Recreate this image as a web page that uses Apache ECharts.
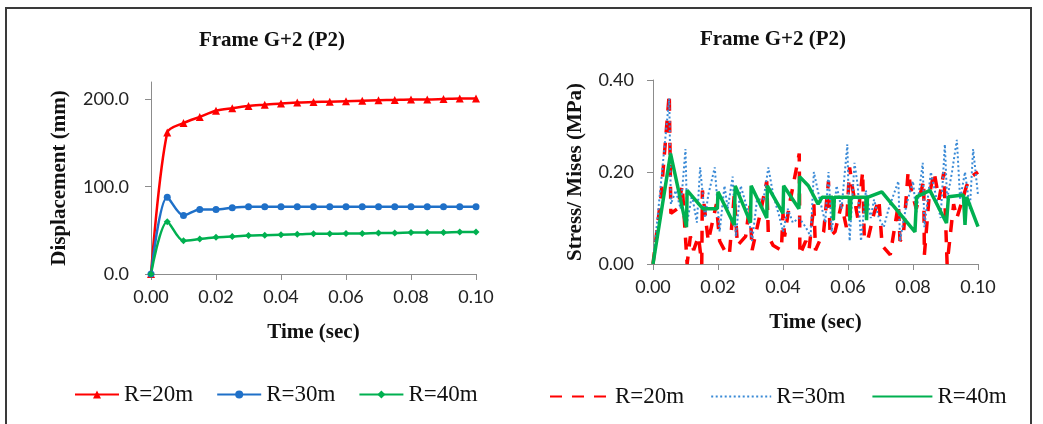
<!DOCTYPE html>
<html><head><meta charset="utf-8">
<script src="https://cdn.jsdelivr.net/npm/echarts@6/dist/echarts.min.js"></script>
<style>html,body{margin:0;padding:0;background:#fff}#c{width:1043px;height:424px}</style>
</head><body><div id="c"></div>
<script>
// ---- Left chart: displacement (mm) vs time (sec) ----
const dispTime = [0, 0.005, 0.01, 0.015, 0.02, 0.025, 0.03, 0.035, 0.04, 0.045, 0.05, 0.055, 0.06, 0.065, 0.07, 0.075, 0.08, 0.085, 0.09, 0.095, 0.1];
const dispR20 = [0, 162, 173, 180, 187, 190, 192.5, 194, 195.5, 196.5, 197, 197.5, 198, 198.5, 199, 199.5, 200, 200, 200.5, 201, 201];
const dispR30 = [0, 88, 67, 74, 74, 76, 77, 77, 77, 77, 77, 77, 77, 77, 77, 77, 77, 77, 77, 77, 77];
const dispR40 = [0, 60, 38, 40, 42, 43, 44, 44.5, 45, 45.5, 46, 46, 46.5, 46.5, 47, 47, 47.5, 47.5, 47.5, 48, 48];
const dispTicks = [0, 100, 200];

// ---- Right chart: stress / Mises (MPa) vs time (sec), [time, value] ----
const stressR20 = [[0,0],[0.0025,0.15],[0.005,0.37],[0.0055,0.11],[0.0075,0.12],[0.009,0.17],[0.0105,0.0],[0.0115,0.06],[0.0125,0.03],[0.014,0.06],[0.015,0.0],[0.0152,0.16],[0.017,0.05],[0.0195,0.13],[0.0205,0.05],[0.022,0.03],[0.0235,0.02],[0.025,0.15],[0.026,0.04],[0.0285,0.06],[0.0298,0.13],[0.0305,0.03],[0.033,0.11],[0.035,0.18],[0.0355,0.06],[0.037,0.04],[0.0395,0.03],[0.04,0.11],[0.0405,0.06],[0.042,0.13],[0.045,0.24],[0.0452,0.02],[0.047,0.05],[0.048,0.03],[0.0495,0.13],[0.05,0.03],[0.0525,0.07],[0.054,0.18],[0.0545,0.06],[0.056,0.07],[0.058,0.13],[0.0595,0.08],[0.0605,0.21],[0.0615,0.16],[0.063,0.1],[0.0645,0.2],[0.065,0.06],[0.066,0.05],[0.068,0.11],[0.0695,0.14],[0.0705,0.04],[0.073,0.02],[0.0755,0.13],[0.076,0.05],[0.077,0.06],[0.0785,0.2],[0.0795,0.16],[0.081,0.12],[0.0833,0.18],[0.0835,0.02],[0.085,0.15],[0.0865,0.2],[0.088,0.14],[0.0895,0.2],[0.0905,0.0],[0.0925,0.13],[0.0935,0.1],[0.0965,0.17],[0.098,0.19],[0.1,0.2]];
const stressR30 = [[0,0],[0.0025,0.18],[0.005,0.36],[0.0055,0.13],[0.007,0.16],[0.0085,0.12],[0.01,0.25],[0.0105,0.09],[0.012,0.15],[0.0135,0.09],[0.0145,0.21],[0.016,0.1],[0.017,0.15],[0.019,0.21],[0.0205,0.07],[0.022,0.17],[0.023,0.12],[0.0245,0.19],[0.0255,0.06],[0.027,0.17],[0.029,0.12],[0.0305,0.05],[0.032,0.14],[0.034,0.14],[0.0355,0.21],[0.037,0.15],[0.039,0.1],[0.04,0.07],[0.0415,0.12],[0.043,0.09],[0.045,0.1],[0.047,0.08],[0.0485,0.06],[0.0495,0.2],[0.051,0.15],[0.053,0.09],[0.054,0.2],[0.055,0.07],[0.0565,0.17],[0.058,0.12],[0.0598,0.26],[0.0605,0.05],[0.062,0.22],[0.063,0.17],[0.064,0.05],[0.0655,0.16],[0.067,0.1],[0.068,0.14],[0.0695,0.1],[0.071,0.08],[0.0725,0.12],[0.0755,0.18],[0.076,0.05],[0.078,0.13],[0.08,0.18],[0.081,0.11],[0.083,0.22],[0.0835,0.08],[0.0855,0.2],[0.087,0.15],[0.0885,0.1],[0.0898,0.26],[0.0905,0.14],[0.092,0.2],[0.0935,0.27],[0.0945,0.14],[0.096,0.2],[0.0975,0.12],[0.0985,0.25],[0.1,0.15]];
const stressR40 = [[0,0],[0.0054,0.24],[0.0103,0.08],[0.0105,0.16],[0.0154,0.12],[0.0198,0.12],[0.02,0.157],[0.025,0.085],[0.0253,0.17],[0.03,0.09],[0.0302,0.17],[0.035,0.1],[0.0352,0.17],[0.04,0.11],[0.0402,0.17],[0.0449,0.12],[0.0451,0.19],[0.0478,0.17],[0.0508,0.13],[0.052,0.145],[0.0553,0.145],[0.0555,0.095],[0.0558,0.145],[0.0604,0.145],[0.0606,0.095],[0.0609,0.145],[0.0655,0.145],[0.0657,0.095],[0.066,0.145],[0.0704,0.157],[0.0806,0.07],[0.0811,0.146],[0.0852,0.16],[0.0903,0.089],[0.0909,0.146],[0.0955,0.15],[0.096,0.085],[0.0965,0.146],[0.1,0.081]];
const stressTicks = [0, 0.2, 0.4];

const seriesNames = ['R=20m', 'R=30m', 'R=40m'];
const chartTitle = 'Frame G+2 (P2)';

const RED = '#ff0000', BLUE = '#1f70c8', BLUE2 = '#3a8ad6', GREEN = '#00b050';
const AX = '#8c8c8c';
const serif = '"Liberation Serif", "Times New Roman", serif';
const sans = 'Lato, "Liberation Sans", sans-serif';

const zip = (xs, ys) => xs.map((x, i) => [x, ys[i]]);

function xAx(grid) {
  return {
    type: 'value', gridIndex: grid, min: 0, max: 0.1, interval: 0.02,
    axisLine: { show: true, lineStyle: { color: AX, width: 1 } },
    axisTick: { show: true, length: 6, lineStyle: { color: AX } },
    axisLabel: { formatter: v => v.toFixed(2), fontFamily: sans, fontSize: 18, color: '#222', margin: 14 },
    splitLine: { show: false },
    name: 'Time (sec)', nameLocation: 'middle', nameGap: 48,
    nameTextStyle: { fontFamily: serif, fontWeight: 'bold', fontSize: 21, color: '#111' }
  };
}

const chart = echarts.init(document.getElementById('c'), null, { renderer: 'canvas' });
chart.setOption({
  animation: false,
  backgroundColor: '#fff',
  graphic: [
    { type: 'rect', shape: { x: 6, y: 8, width: 1025, height: 440 }, style: { fill: 'none', stroke: '#3a3a3a', lineWidth: 2 }, silent: true },
    { type: 'text', x: 272, y: 41, style: { text: chartTitle, align: 'center', verticalAlign: 'middle', font: 'bold 21px ' + serif, fill: '#111' } },
    { type: 'text', x: 773, y: 40, style: { text: chartTitle, align: 'center', verticalAlign: 'middle', font: 'bold 21px ' + serif, fill: '#111' } }
  ],
  legend: [
    {
      left: 74, top: 383, itemWidth: 44, itemHeight: 10, itemGap: 23, padding: 0,
      data: seriesNames,
      textStyle: { fontFamily: serif, fontSize: 23, color: '#111' }
    },
    {
      left: 549, top: 385, itemWidth: 60, itemHeight: 10, itemGap: 26, padding: 0,
      data: seriesNames.map(n => ({ name: n + ' ', itemStyle: { opacity: 0 } })),
      formatter: n => n.trim(),
      textStyle: { fontFamily: serif, fontSize: 23, color: '#111' }
    }
  ],
  grid: [
    { left: 151, right: 567, top: 82, bottom: 150 },
    { left: 653, right: 65, top: 80, bottom: 160 }
  ],
  xAxis: [xAx(0), xAx(1)],
  yAxis: [
    {
      type: 'value', gridIndex: 0, min: 0, max: 220, interval: 100,
      axisLine: { show: true, lineStyle: { color: AX, width: 1 } },
      axisTick: { show: true, length: 6, lineStyle: { color: AX }, customValues: dispTicks },
      axisLabel: { formatter: v => v.toFixed(1), fontFamily: sans, fontSize: 18, color: '#222', margin: 22, customValues: dispTicks },
      splitLine: { show: false },
      name: 'Displacement (mm)', nameLocation: 'middle', nameGap: 81,
      nameTextStyle: { fontFamily: serif, fontWeight: 'bold', fontSize: 21, color: '#111' }
    },
    {
      type: 'value', gridIndex: 1, min: 0, max: 0.4, interval: 0.2,
      axisLine: { show: true, lineStyle: { color: AX, width: 1 } },
      axisTick: { show: true, length: 6, lineStyle: { color: AX }, customValues: stressTicks },
      axisLabel: { formatter: v => v.toFixed(2), fontFamily: sans, fontSize: 18, color: '#222', margin: 19, customValues: stressTicks },
      splitLine: { show: false },
      name: 'Stress/ Mises (MPa)', nameLocation: 'middle', nameGap: 67,
      nameTextStyle: { fontFamily: serif, fontWeight: 'bold', fontSize: 21, color: '#111' }
    }
  ],
  series: [
    { name: seriesNames[0], type: 'line', xAxisIndex: 0, yAxisIndex: 0, data: zip(dispTime, dispR20), smooth: 0.3,
      symbol: 'triangle', symbolSize: 8, lineStyle: { color: RED, width: 2.5 }, itemStyle: { color: RED } },
    { name: seriesNames[1], type: 'line', xAxisIndex: 0, yAxisIndex: 0, data: zip(dispTime, dispR30), smooth: 0.3,
      symbol: 'circle', symbolSize: 7, lineStyle: { color: BLUE, width: 2.5 }, itemStyle: { color: BLUE } },
    { name: seriesNames[2], type: 'line', xAxisIndex: 0, yAxisIndex: 0, data: zip(dispTime, dispR40), smooth: 0.3,
      symbol: 'diamond', symbolSize: 7, lineStyle: { color: GREEN, width: 2.5 }, itemStyle: { color: GREEN } },

    { name: seriesNames[0] + ' ', type: 'line', xAxisIndex: 1, yAxisIndex: 1, data: stressR20, symbol: 'none',
      lineStyle: { color: RED, width: 3.5, type: [12, 10] }, itemStyle: { color: RED } },
    { name: seriesNames[1] + ' ', type: 'line', xAxisIndex: 1, yAxisIndex: 1, data: stressR30, symbol: 'none',
      lineStyle: { color: BLUE2, width: 2, type: [2, 2.5] }, itemStyle: { color: BLUE2 } },
    { name: seriesNames[2] + ' ', type: 'line', xAxisIndex: 1, yAxisIndex: 1, data: stressR40, symbol: 'none',
      lineStyle: { color: GREEN, width: 3.5 }, itemStyle: { color: GREEN } }
  ]
});
</script>
</body></html>
